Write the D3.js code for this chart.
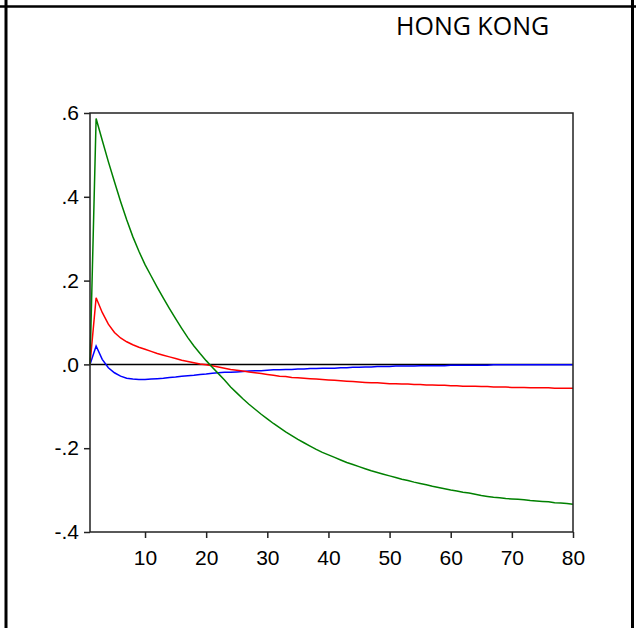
<!DOCTYPE html>
<html>
<head>
<meta charset="utf-8">
<script src="https://cdn.jsdelivr.net/npm/d3@7"></script>
<style>
  body { margin: 0; background: #fff; }
  svg { display: block; }
</style>
</head>
<body>
<div class="vis-irf"></div>
<script>
// impulse response horizon and the three responses
const periods = d3.range(1, 81);
const green = [0, 0.587, 0.535, 0.484, 0.436, 0.389, 0.345, 0.305, 0.270, 0.238,
  0.211, 0.184, 0.158, 0.133, 0.109, 0.086, 0.064, 0.044, 0.026, 0.009,
  -0.007, -0.022, -0.037, -0.054, -0.068, -0.082, -0.095, -0.107, -0.119, -0.130,
  -0.141, -0.151, -0.161, -0.170, -0.179, -0.187, -0.195, -0.203, -0.210, -0.216,
  -0.222, -0.228, -0.234, -0.239, -0.244, -0.249, -0.254, -0.258, -0.262, -0.266,
  -0.270, -0.274, -0.277, -0.281, -0.284, -0.287, -0.291, -0.294, -0.297, -0.300,
  -0.302, -0.305, -0.307, -0.310, -0.313, -0.315, -0.317, -0.318, -0.320, -0.321,
  -0.322, -0.323, -0.325, -0.326, -0.327, -0.328, -0.330, -0.331, -0.332, -0.334];
const red = [0, 0.159, 0.124, 0.096, 0.076, 0.063, 0.054, 0.047, 0.041, 0.036,
  0.031, 0.026, 0.022, 0.018, 0.014, 0.010, 0.007, 0.004, 0.001, -0.001,
  -0.003, -0.006, -0.009, -0.012, -0.014, -0.016, -0.018, -0.020, -0.022, -0.024,
  -0.026, -0.028, -0.029, -0.031, -0.032, -0.033, -0.034, -0.035, -0.036, -0.037,
  -0.038, -0.039, -0.040, -0.041, -0.042, -0.043, -0.044, -0.044, -0.045, -0.046,
  -0.046, -0.047, -0.047, -0.048, -0.048, -0.049, -0.049, -0.050, -0.050, -0.051,
  -0.051, -0.052, -0.052, -0.052, -0.053, -0.053, -0.054, -0.054, -0.054, -0.055,
  -0.055, -0.055, -0.056, -0.056, -0.056, -0.056, -0.057, -0.057, -0.057, -0.057];
const blue = [0, 0.044, 0.012, -0.008, -0.020, -0.028, -0.033, -0.035, -0.036, -0.036,
  -0.035, -0.034, -0.033, -0.031, -0.030, -0.028, -0.027, -0.026, -0.024, -0.023,
  -0.021, -0.020, -0.019, -0.019, -0.018, -0.017, -0.016, -0.015, -0.015, -0.014,
  -0.013, -0.013, -0.012, -0.012, -0.011, -0.011, -0.010, -0.010, -0.009, -0.009,
  -0.009, -0.008, -0.008, -0.007, -0.007, -0.006, -0.006, -0.005, -0.005, -0.005,
  -0.004, -0.004, -0.004, -0.004, -0.003, -0.003, -0.003, -0.003, -0.003, -0.002,
  -0.002, -0.002, -0.002, -0.002, -0.002, -0.002, -0.001, -0.001, -0.001, -0.001,
  -0.001, -0.001, -0.001, -0.001, -0.001, -0.001, -0.001, -0.001, -0.001, -0.001];
const xTicks = [10, 20, 30, 40, 50, 60, 70, 80];
const yTicks = [-0.4, -0.2, 0, 0.2, 0.4, 0.6];
const yLabels = ['-.4', '-.2', '.0', '.2', '.4', '.6'];
const title = "HONG KONG";

const W = 636, H = 628;
const margin = {top: 113, right: 63, bottom: 96, left: 90};
const width = W - margin.left - margin.right;
const height = H - margin.top - margin.bottom;

const root = d3.select('.vis-irf').append('svg')
    .attr('width', W)
    .attr('height', H);

// outer frame (top rule and two side rules)
root.append('line')
    .attr('x1', 0).attr('x2', W).attr('y1', 6.5).attr('y2', 6.5)
    .attr('stroke', '#000').attr('stroke-width', 2.5);
root.append('line')
    .attr('x1', 6).attr('x2', 6).attr('y1', 0).attr('y2', H)
    .attr('stroke', '#000').attr('stroke-width', 3);
root.append('line')
    .attr('x1', 632.5).attr('x2', 632.5).attr('y1', 0).attr('y2', H)
    .attr('stroke', '#000').attr('stroke-width', 3);

root.append('text')
    .attr('x', 396).attr('y', 35)
    .style('font-family', '"Open Sans", sans-serif')
    .style('font-size', '25px')
    .attr('fill', '#000')
    .text(title);

const svg = root.append('g')
    .attr('transform', 'translate(' + margin.left + ',' + margin.top + ')');

let x = d3.scaleLinear().domain([1, 80]).range([0, width]);
let y = d3.scaleLinear().domain([-0.4, 0.6]).range([height, 0]);

let xAxis = svg.append('g')
    .attr('transform', 'translate(0,' + height + ')')
    .call(d3.axisBottom(x).tickValues(xTicks).tickSize(6).tickSizeOuter(0).tickPadding(12));
let yAxis = svg.append('g')
    .call(d3.axisLeft(y).tickValues(yTicks)
        .tickFormat((d, i) => yLabels[i])
        .tickSize(6).tickSizeOuter(0).tickPadding(5));

[xAxis, yAxis].forEach(a => {
    a.select('.domain').remove();
    a.selectAll('line').attr('stroke', '#222').attr('stroke-width', 1.5);
    a.selectAll('text')
        .style('font-family', '"Liberation Sans", Arial, sans-serif')
        .style('font-size', '21px')
        .attr('fill', '#000');
});

// zero line
svg.append('line')
    .attr('x1', 0).attr('x2', width)
    .attr('y1', y(0)).attr('y2', y(0))
    .attr('stroke', '#000').attr('stroke-width', 1.5);

const line = d3.line()
    .x((d, i) => x(periods[i]))
    .y(d => y(d));

[[blue, '#0000ff'], [red, '#ff0000'], [green, '#008000']].forEach(s => {
    svg.append('path')
        .datum(s[0])
        .attr('fill', 'none')
        .attr('stroke', s[1])
        .attr('stroke-width', 1.5)
        .attr('d', line);
});

// plot box
svg.append('rect')
    .attr('x', 0).attr('y', 0)
    .attr('width', width).attr('height', height)
    .attr('fill', 'none')
    .attr('stroke', '#222')
    .attr('stroke-width', 1.5);
</script>
</body>
</html>
